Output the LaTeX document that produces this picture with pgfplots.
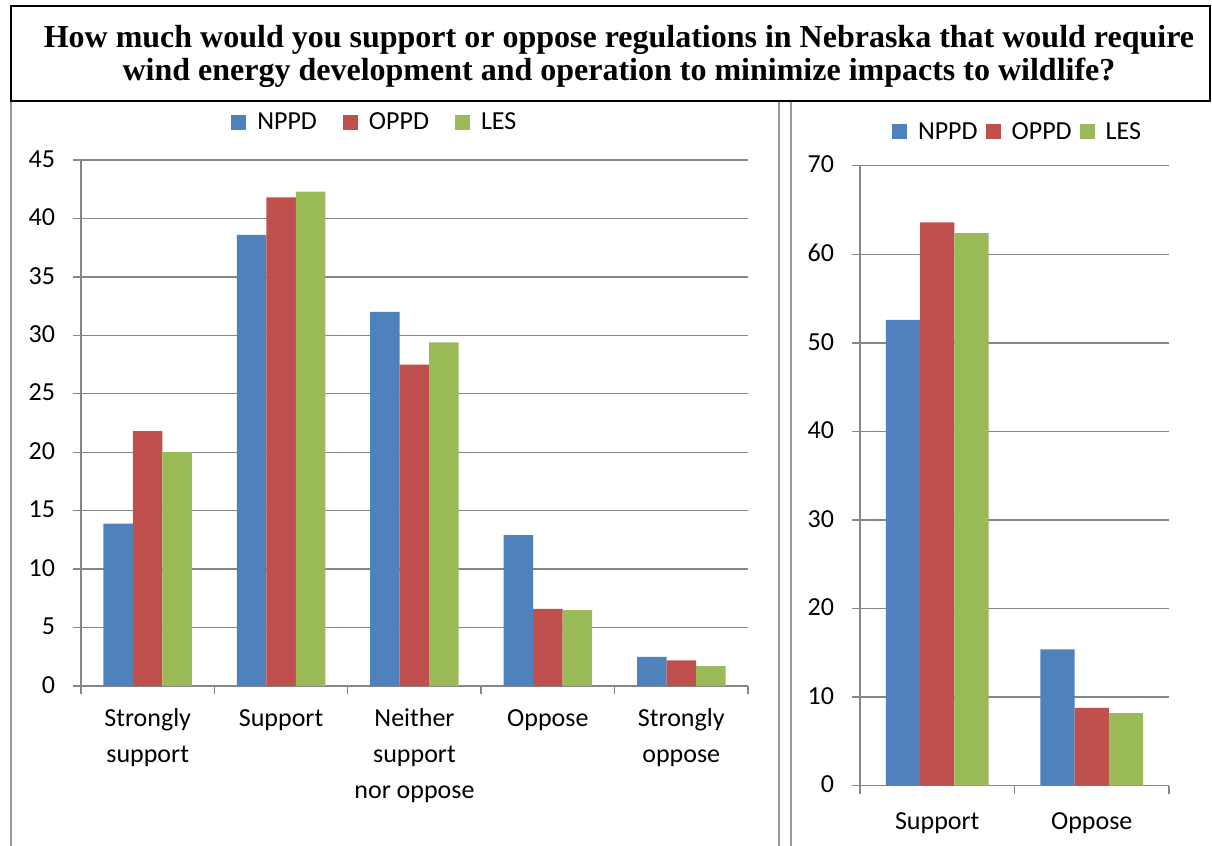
\documentclass[border=0pt]{standalone}
\usepackage{fontspec}
\setmainfont{Carlito}
\newfontfamily\titlefont{Liberation Serif}
\usepackage{pgfplots}
\pgfplotsset{compat=1.18}
\usepackage{pgfplotstable}

\definecolor{nppd}{HTML}{4F81BD}
\definecolor{oppd}{HTML}{C0504D}
\definecolor{les}{HTML}{9BBB59}
\definecolor{gridgray}{HTML}{868686}
\definecolor{framegray}{HTML}{999999}

% five answers
\pgfplotstableread{
x nppd oppd les
0 13.9 21.8 20.0
1 38.6 41.8 42.3
2 32.0 27.5 29.4
3 12.9 6.6 6.5
4 2.5 2.2 1.7
}\fivetable
% collapsed to two answers
\pgfplotstableread{
x nppd oppd les
0 52.6 63.6 62.4
1 15.4 8.8 8.2
}\twotable

\pgfplotsset{
  excel/.style={
    scale only axis,
    anchor=south west,
    ybar=0pt,
    axis lines*=left,
    axis line style={gridgray, line width=0.7pt},
    ymajorgrids,
    major grid style={gridgray, line width=0.7pt},
    tick style={gridgray, line width=0.7pt},
    tick align=outside,
    major tick length=4pt,
    x tick label as interval,
    ymin=0,
    tick label style={font=\fontsize{13}{18}\selectfont},
    typeset ticklabels with strut,
    xticklabel style={align=center},
    yticklabel style={xshift=-5.5pt},
    /pgf/number format/assume math mode=true,
    legend columns=-1,
    legend style={draw=none, anchor=center, font=\fontsize{13}{15}\selectfont},
    legend image code/.code={\fill[##1, draw=none] (0pt,-3.5pt) rectangle (7.5pt,4pt); \path (11pt,0pt);},
  },
}

\begin{document}
\begin{tikzpicture}
\useasboundingbox (0,0) rectangle (606pt,-423pt);
\draw[framegray, line width=0.75pt] (5.5pt,-50.5pt) -- (5.5pt,-423pt);
\draw[framegray, line width=0.75pt] (389.5pt,-50.5pt) -- (389.5pt,-423pt);
\draw[framegray, line width=0.75pt] (395.5pt,-50.5pt) -- (395.5pt,-423pt);
\draw[black, line width=1pt] (5.5pt,-3pt) rectangle (605pt,-50.5pt);
\node[align=center, font=\titlefont\bfseries\fontsize{16}{16.5}\selectfont] at (309.5pt,-28.25pt)
  {How much would you support or oppose regulations in Nebraska that would require\\
   wind energy development and operation to minimize impacts to wildlife?};

\begin{axis}[excel,
  at={(40.5pt,-343pt)},
  width=333.5pt, height=263pt,
  xmin=-0.5, xmax=4.5, ymax=45,
  ytick={0,5,...,45},
  xtick={-0.5,0.5,...,4.5},
  xticklabels={{Strongly\\support},Support,{Neither\\support\\nor oppose},Oppose,{Strongly\\oppose}},
  bar width=14.75pt,
  legend style={at={(0.442,1.0703)}, /tikz/every even column/.append style={column sep=11pt}},
]
\addplot[fill=nppd, draw=none] table[x=x, y=nppd] {\fivetable};
\addplot[fill=oppd, draw=none] table[x=x, y=oppd] {\fivetable};
\addplot[fill=les, draw=none] table[x=x, y=les] {\fivetable};
\legend{NPPD,OPPD,LES}
\end{axis}

\begin{axis}[excel,
  at={(430pt,-392.85pt)},
  width=154.5pt, height=310pt,
  xmin=-0.5, xmax=1.5, ymax=70,
  ytick={0,10,...,70},
  xtick={-0.5,0.5,1.5},
  xticklabels={Support,Oppose},
  xticklabel style={yshift=-2pt},
  bar width=17.15pt,
  legend style={at={(0.513,1.054)}, /tikz/every even column/.append style={column sep=2pt}},
]
\addplot[fill=nppd, draw=none] table[x=x, y=nppd] {\twotable};
\addplot[fill=oppd, draw=none] table[x=x, y=oppd] {\twotable};
\addplot[fill=les, draw=none] table[x=x, y=les] {\twotable};
\legend{NPPD,OPPD,LES}
\end{axis}
\end{tikzpicture}
\end{document}
